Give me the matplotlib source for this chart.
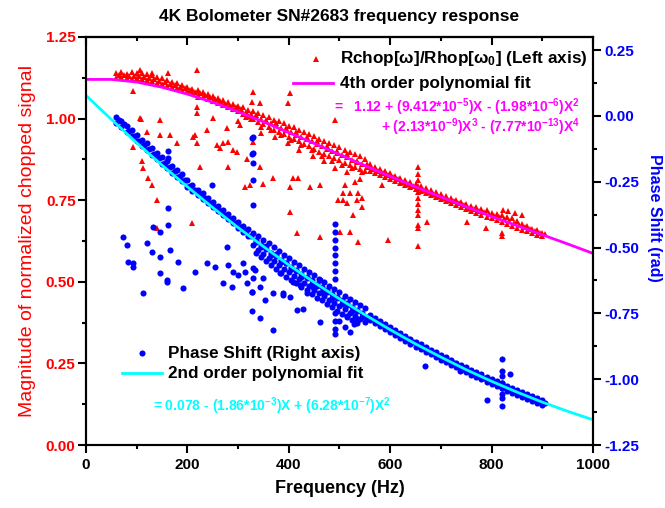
import matplotlib
matplotlib.use("Agg")
import matplotlib.pyplot as plt
from matplotlib.ticker import MultipleLocator

plt.rcParams['font.family'] = ['Liberation Sans', 'DejaVu Sans']
plt.rcParams['font.weight'] = 'bold'
plt.rcParams['axes.labelweight'] = 'bold'
plt.rcParams['axes.unicode_minus'] = False
plt.rcParams['mathtext.fontset'] = 'custom'
plt.rcParams['mathtext.rm'] = 'Liberation Sans:bold'
plt.rcParams['mathtext.it'] = 'Liberation Sans:bold'
plt.rcParams['mathtext.bf'] = 'Liberation Sans:bold'

# sweep frequencies (Hz) of the dense band
freq = [60, 70, 80, 90, 100, 110, 120, 130, 140, 150, 160, 170, 180, 190, 200,
        210, 220, 230, 240, 250, 260, 270, 280, 290, 300, 310, 320, 330, 340, 350,
        360, 370, 380, 390, 400, 410, 420, 430, 440, 450, 460, 470, 480, 490, 500,
        510, 520, 530, 540, 550, 560, 570, 580, 590, 600, 610, 620, 630, 640, 650,
        660, 670, 680, 690, 700, 710, 720, 730, 740, 750, 760, 770, 780, 790, 800,
        810, 820, 830, 840, 850, 860, 870, 880, 890, 900]
freq_mid = [65, 75, 85, 95, 105, 115, 125, 135, 145, 155, 165, 175, 185, 195, 205,
            215, 225, 235, 245, 255, 265, 275, 285, 295, 305, 315, 325, 335, 345, 355,
            365, 375, 385, 395, 405, 415, 425, 435, 445, 455, 465, 475, 485, 495, 505,
            515, 525, 535, 545, 555, 565, 575, 585, 595, 605, 615, 625, 635, 645, 655,
            665, 675, 685, 695, 705, 715, 725, 735, 745, 755, 765, 775, 785, 795, 805,
            815, 825, 835, 845, 855, 865, 875, 885, 895, 905]

# magnitude band (left axis): upper edge, lower edge, middle
mag_upper = [1.140, 1.142, 1.138, 1.143, 1.139, 1.141, 1.136, 1.134, 1.128, 1.124,
             1.118, 1.113, 1.109, 1.104, 1.097, 1.092, 1.087, 1.080, 1.076, 1.070,
             1.063, 1.058, 1.050, 1.046, 1.040, 1.034, 1.027, 1.022, 1.016, 1.011,
             1.004, 0.997, 0.992, 0.985, 0.978, 0.973, 0.966, 0.958, 0.952, 0.946,
             0.938, 0.932, 0.925, 0.918, 0.912, 0.905, 0.897, 0.891, 0.884, 0.875,
             0.862, 0.853, 0.846, 0.839, 0.832, 0.825, 0.818, 0.812, 0.805, 0.799,
             0.793, 0.786, 0.780, 0.774, 0.768, 0.762, 0.756, 0.750, 0.744, 0.738,
             0.733, 0.730, 0.724, 0.719, 0.712, 0.708, 0.705, 0.698, 0.694, 0.685,
             0.677, 0.670, 0.663, 0.658, 0.651]
mag_lower = [1.124, 1.127, 1.125, 1.122, 1.124, 1.120, 1.118, 1.114, 1.110, 1.106,
             1.101, 1.097, 1.093, 1.088, 1.083, 1.078, 1.072, 1.067, 1.061, 1.055,
             1.048, 1.042, 1.035, 1.029, 1.022, 1.015, 1.008, 1.000, 0.990, 0.982,
             0.975, 0.966, 0.960, 0.952, 0.945, 0.938, 0.930, 0.921, 0.915, 0.907,
             0.899, 0.893, 0.885, 0.878, 0.872, 0.864, 0.858, 0.851, 0.845, 0.840,
             0.840, 0.834, 0.828, 0.822, 0.815, 0.809, 0.802, 0.796, 0.790, 0.783,
             0.777, 0.771, 0.765, 0.759, 0.753, 0.747, 0.741, 0.735, 0.729, 0.723,
             0.717, 0.711, 0.705, 0.700, 0.694, 0.688, 0.683, 0.677, 0.671, 0.666,
             0.660, 0.655, 0.649, 0.644, 0.639]
mag_mid = [1.133, 1.134, 1.131, 1.132, 1.130, 1.128, 1.125, 1.121, 1.116, 1.112,
           1.107, 1.103, 1.098, 1.093, 1.087, 1.082, 1.077, 1.071, 1.066, 1.059,
           1.053, 1.046, 1.040, 1.034, 1.027, 1.021, 1.014, 1.006, 1.000, 0.993,
           0.986, 0.979, 0.972, 0.965, 0.958, 0.951, 0.944, 0.937, 0.930, 0.923,
           0.916, 0.908, 0.901, 0.895, 0.888, 0.881, 0.874, 0.867, 0.860, 0.853,
           0.846, 0.840, 0.834, 0.827, 0.820, 0.814, 0.807, 0.801, 0.795, 0.788,
           0.782, 0.776, 0.770, 0.764, 0.758, 0.752, 0.746, 0.740, 0.734, 0.727,
           0.724, 0.718, 0.713, 0.707, 0.702, 0.697, 0.692, 0.686, 0.680, 0.674,
           0.668, 0.662, 0.656, 0.651, 0.646]
mag_scatter = [(305, 1.030), (315, 1.005), (325, 0.998), (335, 1.010), (345, 0.975),
               (355, 0.995), (365, 0.965), (375, 0.985), (385, 0.950), (395, 0.972),
               (405, 0.935), (415, 0.960), (425, 0.920), (435, 0.945), (445, 0.905),
               (455, 0.930), (465, 0.885), (475, 0.915), (485, 0.870), (495, 0.900),
               (505, 0.858), (515, 0.890), (525, 0.848), (535, 0.870), (545, 0.835),
               (555, 0.860), (345, 0.955), (372, 0.945), (398, 0.925), (420, 0.905),
               (447, 0.885), (470, 0.870), (492, 0.850), (515, 0.835), (540, 0.815)]
mag_outliers = [(93, 1.084), (107, 1.001), (108, 0.998), (93, 0.912), (120, 0.958),
                (146, 0.995), (146, 0.949), (166, 0.949), (179, 0.925), (110, 0.870),
                (112, 0.848), (122, 0.817), (130, 0.796), (140, 0.750), (140, 0.664),
                (209, 0.680), (215, 0.949), (211, 0.943), (219, 1.035), (219, 1.016),
                (221, 1.066), (219, 0.925), (225, 0.851), (239, 0.964), (250, 1.001),
                (258, 0.919), (264, 0.909), (270, 0.925), (280, 0.928), (278, 0.971),
                (290, 0.904), (298, 0.898), (300, 0.992), (304, 0.980), (317, 0.876),
                (280, 0.851), (314, 0.790), (323, 0.796), (349, 0.799), (343, 0.851),
                (369, 0.818), (329, 0.928), (343, 1.047), (329, 1.081), (327, 1.050),
                (402, 1.078), (398, 1.047), (402, 0.790), (402, 0.713), (416, 0.649),
                (408, 0.818), (418, 0.818), (441, 0.790), (461, 0.796), (461, 0.637),
                (501, 0.652), (521, 0.652), (536, 0.622), (527, 0.704), (497, 0.750),
                (507, 0.750), (515, 0.741), (535, 0.750), (507, 0.772), (521, 0.772),
                (536, 0.772), (511, 0.796), (530, 0.805), (491, 0.995), (107, 1.148),
                (130, 1.139), (162, 1.139), (219, 1.148), (544, 0.729), (544, 0.756),
                (584, 0.796), (596, 0.628), (672, 0.683), (751, 0.683), (789, 0.664),
                (820, 0.649), (820, 0.640), (655, 0.851), (655, 0.830), (655, 0.812),
                (655, 0.795), (655, 0.775), (655, 0.757), (655, 0.738), (655, 0.720),
                (655, 0.704), (655, 0.674), (655, 0.664), (655, 0.609), (822, 0.720),
                (832, 0.716), (846, 0.712), (860, 0.705)]

# phase band (right axis): upper edge, lower edge, middle
phase_upper = [-0.003, -0.018, -0.037, -0.052, -0.071, -0.090, -0.104, -0.122, -0.141, -0.156,
               -0.172, -0.191, -0.205, -0.222, -0.245, -0.264, -0.280, -0.294, -0.311, -0.327,
               -0.341, -0.357, -0.372, -0.386, -0.402, -0.417, -0.431, -0.443, -0.457, -0.471,
               -0.484, -0.498, -0.512, -0.527, -0.540, -0.553, -0.568, -0.580, -0.593, -0.606,
               -0.620, -0.632, -0.645, -0.657, -0.670, -0.683, -0.694, -0.706, -0.718, -0.731,
               -0.756, -0.769, -0.780, -0.792, -0.803, -0.814, -0.825, -0.836, -0.846, -0.857,
               -0.868, -0.877, -0.888, -0.898, -0.908, -0.917, -0.927, -0.937, -0.946, -0.955,
               -0.965, -0.974, -0.982, -0.991, -1.000, -1.008, -1.016, -1.025, -1.033, -1.041,
               -1.049, -1.057, -1.064, -1.072, -1.080]
phase_lower = [-0.026, -0.043, -0.062, -0.078, -0.097, -0.113, -0.131, -0.148, -0.164, -0.182,
               -0.197, -0.215, -0.231, -0.248, -0.268, -0.284, -0.300, -0.316, -0.331, -0.347,
               -0.362, -0.378, -0.392, -0.408, -0.424, -0.440, -0.457, -0.492, -0.508, -0.523,
               -0.538, -0.552, -0.566, -0.580, -0.594, -0.607, -0.620, -0.633, -0.646, -0.660,
               -0.672, -0.685, -0.698, -0.710, -0.722, -0.735, -0.747, -0.759, -0.770, -0.782,
               -0.776, -0.788, -0.799, -0.810, -0.822, -0.833, -0.843, -0.854, -0.865, -0.876,
               -0.886, -0.896, -0.906, -0.916, -0.926, -0.936, -0.945, -0.955, -0.964, -0.974,
               -0.983, -0.992, -1.001, -1.009, -1.018, -1.026, -1.035, -1.043, -1.051, -1.059,
               -1.067, -1.075, -1.082, -1.090, -1.097]
phase_mid = [-0.014, -0.030, -0.057, -0.075, -0.094, -0.110, -0.127, -0.145, -0.160, -0.177,
             -0.193, -0.210, -0.227, -0.245, -0.265, -0.282, -0.297, -0.313, -0.329, -0.344,
             -0.360, -0.375, -0.390, -0.405, -0.420, -0.436, -0.455, -0.480, -0.492, -0.505,
             -0.520, -0.533, -0.546, -0.560, -0.574, -0.586, -0.600, -0.612, -0.625, -0.638,
             -0.650, -0.663, -0.676, -0.688, -0.700, -0.712, -0.724, -0.736, -0.748, -0.762,
             -0.772, -0.784, -0.795, -0.806, -0.817, -0.828, -0.839, -0.849, -0.860, -0.870,
             -0.881, -0.891, -0.901, -0.911, -0.921, -0.931, -0.940, -0.950, -0.959, -0.969,
             -0.978, -0.987, -0.995, -1.004, -1.012, -1.021, -1.029, -1.037, -1.045, -1.053,
             -1.061, -1.069, -1.077, -1.085, -1.092]
phase_scatter = [(335, -0.470), (345, -0.498), (355, -0.495), (365, -0.528), (375, -0.525),
                 (385, -0.555), (395, -0.558), (405, -0.582), (415, -0.590), (425, -0.612),
                 (435, -0.615), (445, -0.640), (455, -0.645), (465, -0.668), (475, -0.668),
                 (485, -0.692), (495, -0.690), (505, -0.715), (515, -0.718), (525, -0.740),
                 (535, -0.742), (545, -0.765), (555, -0.768), (335, -0.520), (345, -0.535),
                 (355, -0.550), (365, -0.566), (375, -0.580), (385, -0.596), (395, -0.610),
                 (405, -0.624), (415, -0.636), (425, -0.650), (435, -0.661), (445, -0.676),
                 (455, -0.690), (465, -0.700), (475, -0.714), (485, -0.726), (495, -0.740),
                 (505, -0.751), (515, -0.764), (525, -0.776), (535, -0.786)]
phase_outliers = [(329, -0.081), (329, -0.139), (329, -0.177), (329, -0.242), (329, -0.337),
                  (327, -0.085), (327, -0.143), (248, -0.261), (162, -0.349), (162, -0.135),
                  (162, -0.158), (73, -0.460), (81, -0.490), (83, -0.555), (93, -0.559),
                  (93, -0.574), (120, -0.482), (130, -0.517), (132, -0.421), (146, -0.440),
                  (162, -0.414), (146, -0.536), (146, -0.597), (160, -0.624), (160, -0.632),
                  (166, -0.509), (181, -0.555), (112, -0.673), (191, -0.655), (215, -0.593),
                  (239, -0.559), (254, -0.574), (278, -0.498), (280, -0.567), (270, -0.636),
                  (288, -0.650), (290, -0.593), (300, -0.605), (310, -0.559), (314, -0.593),
                  (327, -0.670), (329, -0.578), (329, -0.616), (317, -0.636), (343, -0.650),
                  (369, -0.673), (383, -0.597), (389, -0.681), (408, -0.631), (422, -0.643),
                  (436, -0.673), (448, -0.650), (461, -0.624), (491, -0.41), (491, -0.44),
                  (491, -0.47), (491, -0.50), (491, -0.53), (491, -0.56), (491, -0.59),
                  (491, -0.62), (491, -0.75), (491, -0.78), (491, -0.81), (491, -0.83),
                  (500, -0.78), (510, -0.80), (515, -0.76), (520, -0.82), (528, -0.79),
                  (535, -0.77), (333, -0.586), (349, -0.616), (353, -0.700), (343, -0.769),
                  (369, -0.815), (389, -0.674), (402, -0.688), (416, -0.738), (428, -0.735),
                  (461, -0.784), (669, -0.948), (738, -0.968), (821, -0.922), (821, -0.968),
                  (821, -0.987), (821, -1.013), (821, -1.033), (821, -1.056), (821, -1.071),
                  (821, -1.101), (836, -0.980), (791, -1.079), (327, -0.67), (327, -0.74)]

# polynomial fit curves
fit_f = [0, 50, 100, 150, 200, 250, 300, 350, 400, 450, 500,
         550, 600, 650, 700, 750, 800, 850, 900, 950, 1000]
mag_fit = [1.120, 1.120, 1.112, 1.096, 1.075, 1.050, 1.021, 0.990, 0.957, 0.924, 0.890,
           0.856, 0.823, 0.791, 0.760, 0.730, 0.700, 0.672, 0.644, 0.616, 0.587]
phase_fit = [0.078, -0.013, -0.102, -0.187, -0.269, -0.348, -0.424, -0.496, -0.566, -0.632, -0.695,
             -0.755, -0.812, -0.866, -0.916, -0.964, -1.008, -1.049, -1.087, -1.122, -1.154]


def main():
    fig = plt.figure(figsize=(6.65, 5.08), dpi=100)
    ax = fig.add_axes([0.1293, 0.124, 0.7624, 0.8032])
    ax2 = ax.twinx()

    red_f = freq + freq + freq_mid + [p[0] for p in mag_scatter + mag_outliers]
    red_v = mag_upper + mag_lower + mag_mid + [p[1] for p in mag_scatter + mag_outliers]
    ax.plot(red_f, red_v, '^', color='red', ms=5, mew=0)
    ax.plot(fit_f, mag_fit, color='#ff00ff', lw=2)

    blue_f = freq + freq + freq_mid + [p[0] for p in phase_scatter + phase_outliers]
    blue_v = phase_upper + phase_lower + phase_mid + [p[1] for p in phase_scatter + phase_outliers]
    ax2.plot(blue_f, blue_v, 'o', color='#0000ff', ms=4.4, mew=0)
    ax2.plot(fit_f, phase_fit, color='#00ffff', lw=2)

    ax.set_xlim(0, 1000)
    ax.set_ylim(0, 1.25)
    ax2.set_ylim(-1.25, 0.30)

    ax.xaxis.set_major_locator(MultipleLocator(200))
    ax.xaxis.set_minor_locator(MultipleLocator(100))
    ax.yaxis.set_major_locator(MultipleLocator(0.25))
    ax.yaxis.set_minor_locator(MultipleLocator(0.125))
    ax2.yaxis.set_major_locator(MultipleLocator(0.25))
    ax2.yaxis.set_minor_locator(MultipleLocator(0.125))

    for a in (ax, ax2):
        for s in a.spines.values():
            s.set_linewidth(1.5)

    ax.tick_params(axis='x', which='major', direction='out', length=6, width=1.5,
                   labelsize=11, pad=3)
    ax.tick_params(axis='x', which='minor', direction='out', length=3, width=1.5)
    ax.tick_params(axis='y', which='major', direction='out', length=6, width=1.5,
                   labelsize=11, labelcolor='red', pad=1.5)
    ax.tick_params(axis='y', which='minor', direction='out', length=3, width=1.5)
    ax2.tick_params(axis='y', which='major', direction='out', length=6, width=1.5,
                    labelsize=11, labelcolor='#0000ff', pad=2)
    ax2.tick_params(axis='y', which='minor', direction='out', length=3, width=1.5)

    top = ax.secondary_xaxis('top')
    top.xaxis.set_major_locator(MultipleLocator(200))
    top.xaxis.set_minor_locator(MultipleLocator(100))
    top.tick_params(which='major', direction='in', length=6, width=1.5, labeltop=False)
    top.tick_params(which='minor', direction='in', length=3, width=1.5)
    top.spines['top'].set_linewidth(1.5)

    ax.set_xlabel('Frequency (Hz)', fontsize=13, fontweight='bold', labelpad=6)
    ax.set_ylabel('Magnitude of normalized chopped signal', fontsize=14,
                  fontweight='normal', color='red', labelpad=7)
    ax2.set_ylabel('Phase Shift (rad)', fontsize=11.5, fontweight='bold',
                   color='#0000ff', rotation=270, va='bottom')
    ax2.yaxis.set_label_coords(1.106, 0.556)
    fig.text(0.5105, 0.968, '4K Bolometer SN#2683 frequency response',
             ha='center', va='center', fontsize=12.5, fontweight='bold')

    # legend-like annotations, drawn by hand as in the original
    t = ax2.transAxes
    ax2.plot([0.454], [0.947], '^', color='red', ms=5, mew=0, transform=t, clip_on=False)
    ax2.text(0.501, 0.947, r'Rchop[ω]/Rhop[ω$_0$] (Left axis)', transform=t,
             va='center', fontsize=12.3)
    ax2.plot([0.408, 0.487], [0.886, 0.886], color='#ff00ff', lw=2, transform=t)
    ax2.text(0.501, 0.886, '4th order polynomial fit', transform=t,
             va='center', fontsize=12.3)
    ax2.text(0.974, 0.828, r'=   1.12 + (9.412*10$^{-5}$)X - (1.98*10$^{-6}$)X$^{2}$',
             transform=t, ha='right', va='center', fontsize=10, color='#ff00ff')
    ax2.text(0.974, 0.779, r'+ (2.13*10$^{-9}$)X$^{3}$ - (7.77*10$^{-13}$)X$^{4}$',
             transform=t, ha='right', va='center', fontsize=10, color='#ff00ff')

    ax2.plot([0.110], [0.225], 'o', color='#0000ff', ms=4.4, mew=0, transform=t)
    ax2.text(0.162, 0.225, 'Phase Shift (Right axis)', transform=t,
             va='center', fontsize=12.3)
    ax2.plot([0.071, 0.150], [0.176, 0.176], color='#00ffff', lw=2, transform=t)
    ax2.text(0.162, 0.176, '2nd order polynomial fit', transform=t,
             va='center', fontsize=12.3)
    ax2.text(0.132, 0.094, r'= 0.078 - (1.86*10$^{-3}$)X + (6.28*10$^{-7}$)X$^{2}$',
             transform=t, va='center', fontsize=10, color='#00ffff')

    fig.savefig('out.png', dpi=100)


if __name__ == "__main__":
    main()
